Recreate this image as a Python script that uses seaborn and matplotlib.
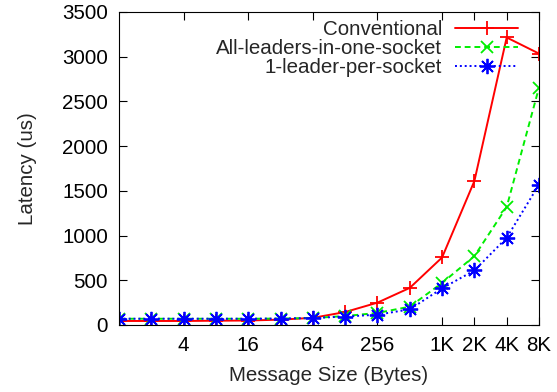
import matplotlib
matplotlib.use("Agg")
import matplotlib.pyplot as plt
import seaborn as sns
import pandas as pd

sizes = [1, 2, 4, 8, 16, 32, 64, 128, 256, 512, 1024, 2048, 4096, 8192]
conventional = [45, 45, 45, 48, 50, 60, 80, 145, 250, 415, 755, 1610, 3215, 3035]
all_leaders_one_socket = [70, 70, 70, 70, 70, 72, 78, 100, 135, 205, 470, 770, 1320, 2655]
one_leader_per_socket = [70, 70, 70, 70, 70, 72, 78, 95, 115, 175, 410, 610, 975, 1570]
series_names = ["Conventional", "All-leaders-in-one-socket", "1-leader-per-socket"]
xtick_values = [4, 16, 64, 256, 1024, 2048, 4096, 8192]
xtick_labels = ["4", "16", "64", "256", "1K", "2K", "4K", "8K"]
ytick_values = [0, 500, 1000, 1500, 2000, 2500, 3000, 3500]

sns.set_style("ticks")
plt.rcParams["font.family"] = ["Liberation Sans", "DejaVu Sans"]

fig = plt.figure(figsize=(5.57, 3.92), dpi=100)
ax = fig.add_axes([119 / 557, 67 / 392, 420 / 557, 313 / 392])

styles = [
    dict(color="#ff0000", linestyle="-", marker="+", markersize=10),
    dict(color="#00ee00", linestyle=(0, (3, 2)), marker="x", markersize=9),
    dict(color="#0000ff", linestyle=(0, (1, 1.5)), marker=(8, 2, 0), markersize=11),
]
data = [conventional, all_leaders_one_socket, one_leader_per_socket]

for name, vals, st in zip(series_names, data, styles):
    df = pd.DataFrame({"size": sizes, "latency": vals})
    sns.lineplot(data=df, x="size", y="latency", ax=ax, label=name,
                 color=st["color"], linestyle=st["linestyle"], marker=st["marker"],
                 markersize=st["markersize"], markeredgewidth=1.3,
                 markeredgecolor=st["color"], linewidth=1.4)

FS = 14.8
ax.set_xscale("log", base=2)
ax.set_xlim(1, 8192)
ax.set_ylim(0, 3500)
ax.set_xticks(xtick_values)
ax.set_xticklabels(xtick_labels)
ax.minorticks_off()
ax.set_yticks(ytick_values)
ax.tick_params(direction="in", length=6, width=0.8, top=True, right=True,
               labelsize=FS, pad=8, colors="black")
for sp in ax.spines.values():
    sp.set_visible(True)
    sp.set_linewidth(0.8)
    sp.set_color("black")
ax.set_xlabel("Message Size (Bytes)", fontsize=FS, labelpad=8)
ax.set_ylabel("Latency (us)", fontsize=FS, labelpad=18)

leg = ax.legend(loc="upper right", bbox_to_anchor=(1 - 16.5 / 420, 1 - 4 / 313),
                frameon=False, markerfirst=False,
                fontsize=FS, handlelength=3.1, handletextpad=0.6,
                labelspacing=0.0, borderaxespad=0.0, borderpad=0.2)
for vp in leg._legend_box.get_children()[1].get_children():
    vp.align = "right"

fig.savefig("out.png", dpi=100)
